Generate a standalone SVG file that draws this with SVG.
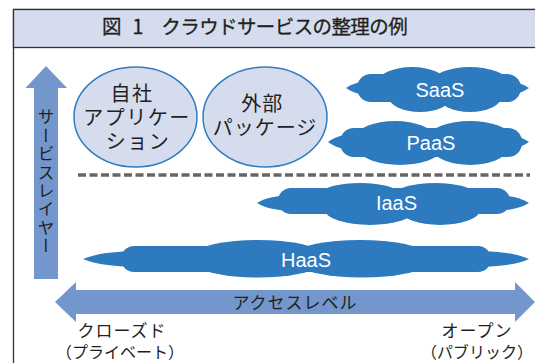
<svg xmlns="http://www.w3.org/2000/svg" width="535" height="363" viewBox="0 0 535 363">
<style>
.jp{font-family:"Noto Sans CJK JP","Noto Sans CJK SC",sans-serif;fill:#231f20}
.cl{fill:#2e7abf}
.cl-t{font-family:"Liberation Sans",Arial,sans-serif;font-size:20px;fill:#ffffff;text-anchor:middle}
.bub{fill:#d5dcee;stroke:#2f7cc0;stroke-width:1.5}
.arr{fill:#7397cd}
</style>
<rect x="13.5" y="9.5" width="560" height="400" fill="#ffffff" stroke="#333333" stroke-width="1.3"/>
<rect x="13.5" y="9.5" width="560" height="38" fill="#d5dcee" stroke="#333333" stroke-width="1.3"/>
<text class="jp" x="102" y="34" font-size="19.5" stroke="#231f20" stroke-width="0.3"><tspan>図</tspan><tspan dx="11">1</tspan><tspan dx="18" letter-spacing="-0.6">クラウドサービスの整理の例</tspan></text>

<g id="service-layer-axis">
<path class="arr" d="M46,66 L67,88 L58,88 L58,279 L34,279 L34,88 L25.5,88 Z"/>
<text class="jp" x="46" y="108.5" font-size="17" style="writing-mode:vertical-rl;letter-spacing:1.4px">サービスレイヤー</text>
</g>

<g id="access-level-axis">
<path class="arr" d="M55,302 L76,282 L76,290 L515,290 L515,282 L535,302 L515,322 L515,314 L76,314 L76,322 Z"/>
<text class="jp" x="295" y="309" font-size="17" text-anchor="middle" letter-spacing="1">アクセスレベル</text>
<text class="jp" x="122" y="337" font-size="17" text-anchor="middle" letter-spacing="1">クローズド</text>
<text class="jp" x="120" y="358" font-size="16" text-anchor="middle">（プライベート）</text>
<text class="jp" x="477" y="337" font-size="17" text-anchor="middle" letter-spacing="1">オープン</text>
<text class="jp" x="477" y="358" font-size="16" text-anchor="middle">（パブリック）</text>
</g>

<g id="connectors">
<line x1="78" y1="175" x2="530" y2="175" stroke="#666666" stroke-width="3.3" stroke-dasharray="8 3.5"/>
</g>

<g id="own-app">
<ellipse class="bub" cx="135.5" cy="117" rx="61.5" ry="50"/>
<text class="jp" font-size="20" text-anchor="middle" letter-spacing="1.5">
<tspan x="135" y="101">自社</tspan>
<tspan x="140" y="125">アプリケー</tspan>
<tspan x="138" y="149">ション</tspan>
</text>
</g>

<g id="external-package">
<ellipse class="bub" cx="265" cy="117" rx="62" ry="50"/>
<text class="jp" font-size="20" text-anchor="middle" letter-spacing="1">
<tspan x="265" y="111">外部</tspan>
<tspan x="265" y="135">パッケージ</tspan>
</text>
</g>

<g id="saas">
<path class="cl" d="M346,88 C352,84 358,82 366,81 L366,95 C358,94 352,92 346,88 Z M529,88 C523,84 517,82 509,81 L509,95 C517,94 523,92 529,88 Z"/>
<rect class="cl" x="357" y="74" width="164" height="28" rx="14"/>
<ellipse class="cl" cx="412" cy="82" rx="34" ry="15"/>
<ellipse class="cl" cx="470" cy="82" rx="38" ry="15"/>
<ellipse class="cl" cx="420" cy="96" rx="32" ry="16"/>
<ellipse class="cl" cx="470" cy="96" rx="32" ry="16"/>
<text class="cl-t" x="440" y="96.5">SaaS</text>
</g>

<g id="paas">
<path class="cl" d="M328,142 C335,137 342,135 350,134 L350,150 C342,149 335,147 328,142 Z M529,142 C523,138 517,136 510,135 L510,149 C517,148 523,146 529,142 Z"/>
<rect class="cl" x="340" y="128" width="182" height="29" rx="14"/>
<ellipse class="cl" cx="395" cy="136" rx="38" ry="15"/>
<ellipse class="cl" cx="470" cy="136" rx="40" ry="15"/>
<ellipse class="cl" cx="400" cy="150" rx="40" ry="15"/>
<ellipse class="cl" cx="470" cy="150" rx="36" ry="15"/>
<text class="cl-t" x="431" y="150">PaaS</text>
</g>

<g id="iaas">
<path class="cl" d="M257,203 C265,198 275,196 290,195 L290,211 C275,210 265,208 257,203 Z M529,203 C521,198 511,196 498,195 L498,211 C511,210 521,208 529,203 Z"/>
<rect class="cl" x="278" y="188" width="232" height="26" rx="13"/>
<ellipse class="cl" cx="360" cy="196" rx="42" ry="13"/>
<ellipse class="cl" cx="435" cy="196" rx="42" ry="13"/>
<ellipse class="cl" cx="370" cy="210" rx="45" ry="15"/>
<ellipse class="cl" cx="440" cy="210" rx="40" ry="15"/>
<text class="cl-t" x="396.5" y="210">IaaS</text>
</g>

<g id="haas">
<path class="cl" d="M83,259 C95,254 110,252 132,251 L132,267 C110,266 95,264 83,259 Z M529,259 C518,254 505,252 482,251 L482,267 C505,266 518,264 529,259 Z"/>
<rect class="cl" x="121" y="246" width="370" height="26" rx="13"/>
<ellipse class="cl" cx="258" cy="253" rx="60" ry="13"/>
<ellipse class="cl" cx="360" cy="253" rx="62" ry="13"/>
<ellipse class="cl" cx="258" cy="264" rx="60" ry="13.5"/>
<ellipse class="cl" cx="362" cy="264" rx="62" ry="13.5"/>
<text class="cl-t" x="306" y="267">HaaS</text>
</g>
</svg>
